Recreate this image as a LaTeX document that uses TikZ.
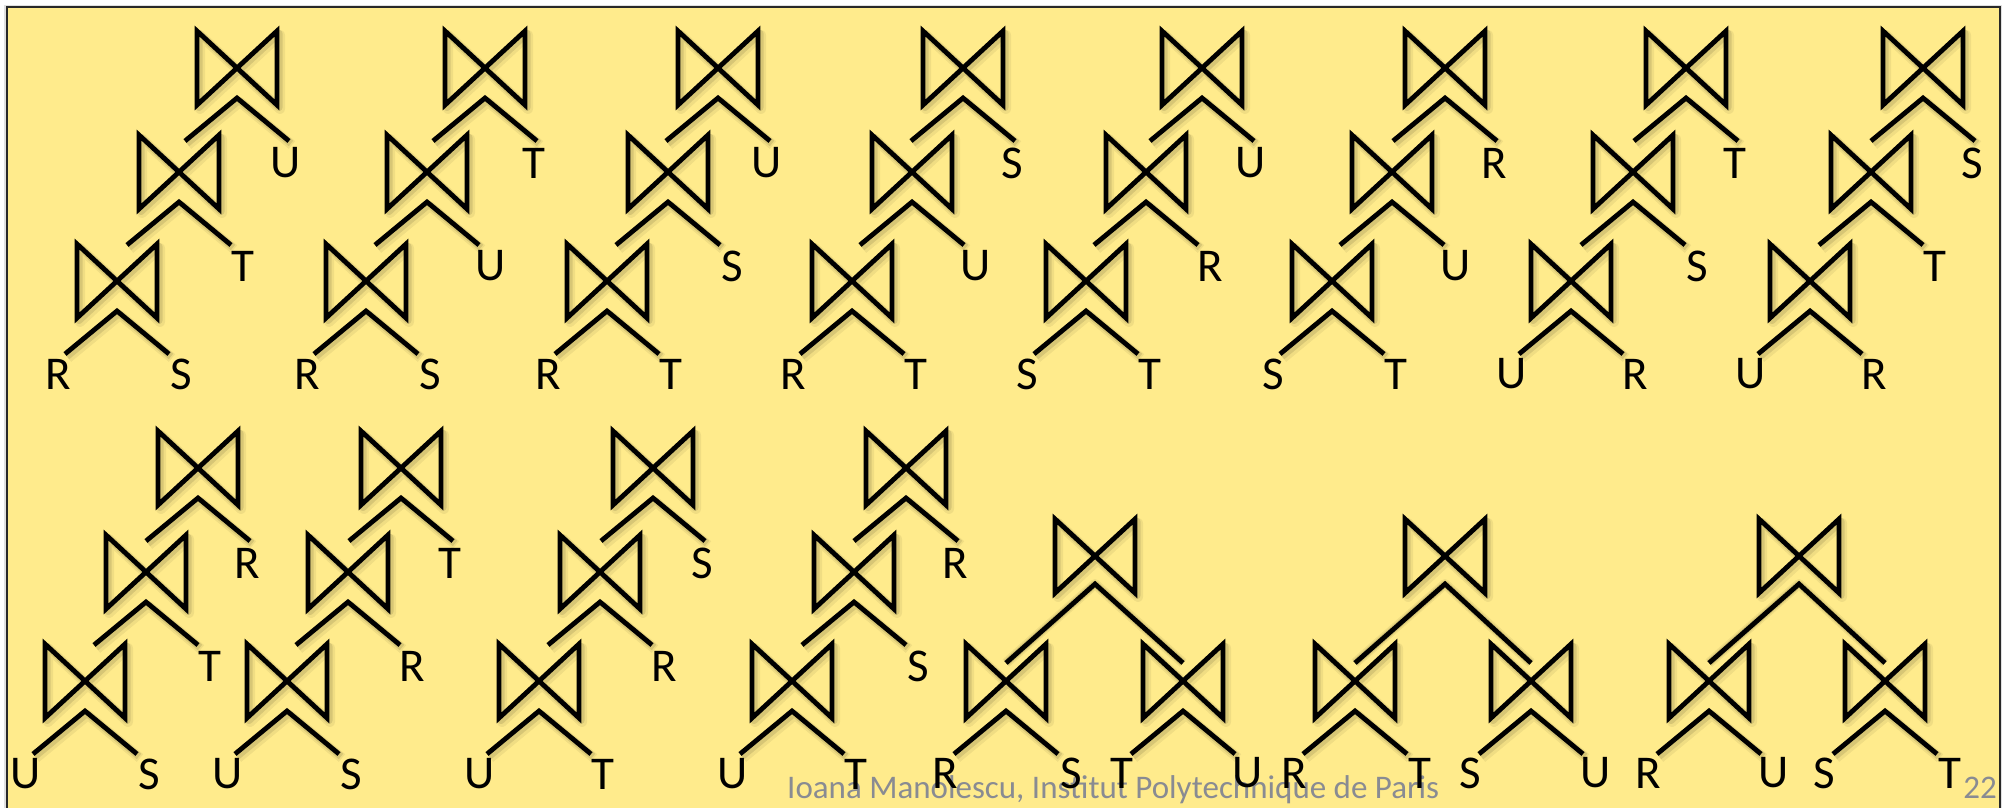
\documentclass[tikz,border=0pt]{standalone}
\usepackage{fontspec}
\setmainfont{Carlito}
\definecolor{bgyellow}{RGB}{255,235,140}
\definecolor{footgray}{RGB}{137,139,146}
\definecolor{framegray}{RGB}{40,40,40}
\tikzset{
  tieline/.style={line width=4.8pt, line join=miter, black},
  shadowA/.style={line width=10pt, line join=round, black, opacity=0.06, shift={(3,4)}},
  shadowB/.style={line width=7pt, line join=round, black, opacity=0.10, shift={(2,2.5)}},
  lbl/.style={inner sep=0pt, font=\fontsize{47}{47}\selectfont},
  footer/.style={inner sep=0pt, text=footgray, font=\fontsize{33}{33}\selectfont},
  bowtie/.pic={
    \foreach \s in {shadowA,shadowB,tieline}
      \draw[\s] (-40,-37) -- (-40,37) -- (40,-37) -- (40,37) -- cycle;
  },
  caret/.pic={
    \foreach \s in {shadowA,shadowB,tieline}
      \draw[\s] (-52,73) -- (0,30) -- (52,73);
  },
}
% left-deep tree: id, top x, mid x, bottom x, row offset, labels (top, mid, bottom-left, bottom-right)
\newcommand\ldtree[9]{%
  \coordinate (#1a) at (#2,68+#5);
  \coordinate (#1b) at (#3,172+#5);
  \coordinate (#1c) at (#4,281+#5);
  \foreach \j in {a,b,c}{\pic at (#1\j) {bowtie}; \pic at (#1\j) {caret};}
  \node[lbl] (#1la) at ([shift={(49,95)}]#1a) {#6};
  \node[lbl] (#1lb) at ([shift={(64,94)}]#1b) {#7};
  \node[lbl] (#1lc) at ([shift={(-59,93)}]#1c) {#8};
  \node[lbl] (#1ld) at ([shift={(64,93)}]#1c) {#9};
}
% bushy tree: id, top x, left child x, right child x, four leaf labels
\newcommand\bushy[8]{%
  \coordinate (#1a) at (#2,556);
  \coordinate (#1l) at (#3,681);
  \coordinate (#1r) at (#4,681);
  \coordinate (#1ap) at ([shift={(0,28)}]#1a);
  \coordinate (#1le) at ([shift={(0,-18)}]#1l);
  \coordinate (#1re) at ([shift={(0,-18)}]#1r);
  \pic at (#1a) {bowtie};
  \foreach \s in {shadowA,shadowB,tieline}
    \draw[\s] (#1le) -- (#1ap) -- (#1re);
  \foreach \j in {l,r}{\pic at (#1\j) {bowtie}; \pic at (#1\j) {caret};}
  \node[lbl] (#1l1) at ([shift={(-61,92)}]#1l) {#5};
  \node[lbl] (#1l2) at ([shift={(65,92)}]#1l) {#6};
  \node[lbl] (#1l3) at ([shift={(-61,92)}]#1r) {#7};
  \node[lbl] (#1l4) at ([shift={(65,92)}]#1r) {#8};
}
\begin{document}
\begin{tikzpicture}[x=1pt,y=-1pt]
\useasboundingbox (0,0) rectangle (2007,808);
\fill[black!12] (4,5) rectangle (2002,815);
\draw[fill=bgyellow, draw=framegray, line width=2pt] (7,7) rectangle (2000,815);
\node[footer, anchor=base west] (foot) at (787,798) {Ioana Manolescu, Institut Polytechnique de Paris};
\node[footer, anchor=base east] (page) at (1997,798) {22};
% row 1
\ldtree{t1}{237}{179}{117}{0}{U}{T}{R}{S}
\ldtree{t2}{485}{427}{366}{0}{T}{U}{R}{S}
\ldtree{t3}{718}{668}{607}{0}{U}{S}{R}{T}
\ldtree{t4}{963}{912}{852}{0}{S}{U}{R}{T}
\ldtree{t5}{1202}{1146}{1086}{0}{U}{R}{S}{T}
\ldtree{t6}{1445}{1392}{1332}{0}{R}{U}{S}{T}
\ldtree{t7}{1686}{1633}{1571}{0}{T}{S}{U}{R}
\ldtree{t8}{1923}{1871}{1810}{0}{S}{T}{U}{R}
% row 2
\ldtree{u1}{198}{146}{85}{400}{R}{T}{U}{S}
\ldtree{u2}{401}{348}{287}{400}{T}{R}{U}{S}
\ldtree{u3}{653}{600}{539}{400}{S}{R}{U}{T}
\ldtree{u4}{906}{854}{792}{400}{R}{S}{U}{T}
\bushy{b1}{1095}{1006}{1183}{R}{S}{T}{U}
\bushy{b2}{1445}{1355}{1531}{R}{T}{S}{U}
\bushy{b3}{1799}{1709}{1885}{R}{U}{S}{T}
\end{tikzpicture}
\end{document}
